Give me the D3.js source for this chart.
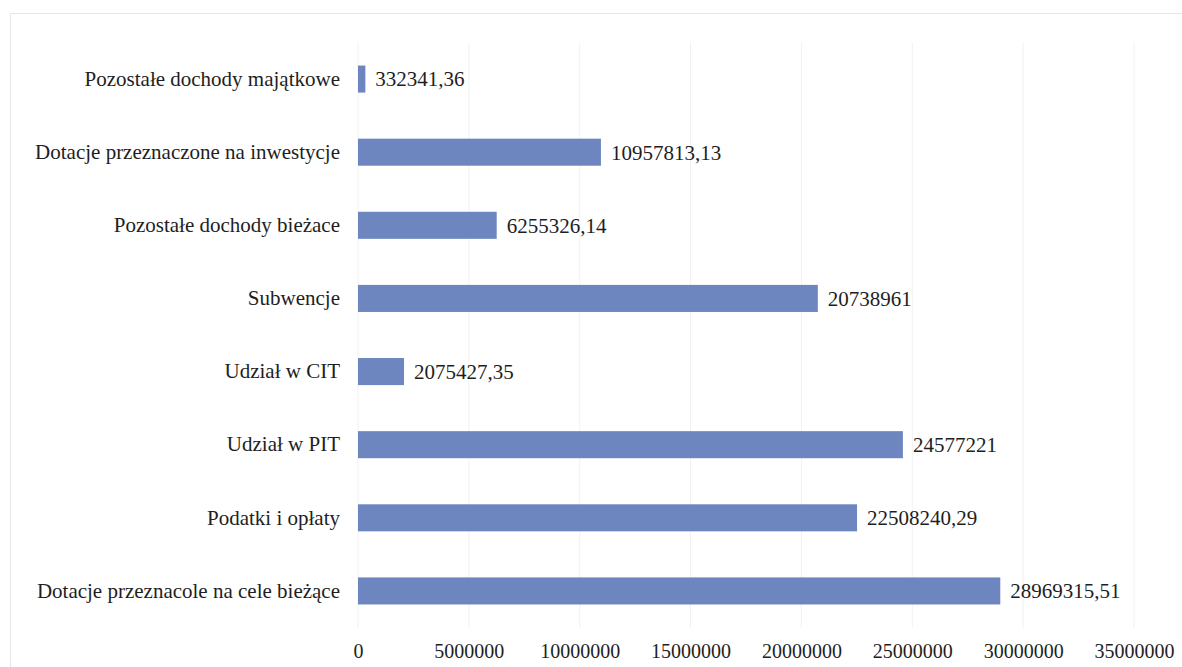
<!DOCTYPE html>
<html><head><meta charset="utf-8">
<script src="https://cdn.jsdelivr.net/npm/d3@7"></script>
<style>body{margin:0;background:#fff}svg{display:block}</style>
</head><body>
<svg id="c" width="1182" height="667"></svg>
<script>
const categories = [
  "Pozostałe dochody majątkowe",
  "Dotacje przeznaczone na inwestycje",
  "Pozostałe dochody bieżace",
  "Subwencje",
  "Udział w CIT",
  "Udział w PIT",
  "Podatki i opłaty",
  "Dotacje przeznacole na cele bieżące"
];
const values = [332341.36, 10957813.13, 6255326.14, 20738961, 2075427.35, 24577221, 22508240.29, 28969315.51];
const valueLabels = ["332341,36","10957813,13","6255326,14","20738961","2075427,35","24577221","22508240,29","28969315,51"];
const tickValues = [0,5000000,10000000,15000000,20000000,25000000,30000000,35000000];

const svg = d3.select("#c");
const font = "'Liberation Serif','Times New Roman',serif";
const m = {left:358, right:1134, top:42.5, bottom:627.5};

svg.append("rect").attr("x",10.5).attr("y",13.5).attr("width",1200).attr("height",700)
  .attr("fill","none").attr("stroke","#e6e6e6");

const x = d3.scaleLinear().domain([0,35000000]).range([m.left,m.right]);
const y = d3.scaleBand().domain(categories).range([m.top,m.bottom]).paddingInner(0.63).paddingOuter(0.315);

// gridlines
svg.append("g").selectAll("line").data(tickValues).join("line")
  .attr("x1",d=>x(d)).attr("x2",d=>x(d)).attr("y1",m.top).attr("y2",m.bottom)
  .attr("stroke","#f1f1f1").attr("stroke-width",1);

// bars
svg.append("g").selectAll("rect").data(values).join("rect")
  .attr("x",x(0)).attr("y",(d,i)=>y(categories[i]))
  .attr("width",d=>x(d)-x(0)).attr("height",y.bandwidth())
  .attr("fill","#6e86c0");

// value labels
svg.append("g").selectAll("text").data(values).join("text")
  .attr("x",d=>x(d)+10).attr("y",(d,i)=>y(categories[i])+y.bandwidth()/2)
  .attr("dy","0.35em").attr("font-family",font).attr("font-size",21).attr("fill","#1e1e1e")
  .text((d,i)=>valueLabels[i]);

// y axis
const yAxis = d3.axisLeft(y).tickSize(0).tickPadding(18);
const gy = svg.append("g").attr("transform",`translate(${m.left},0)`).call(yAxis);
gy.select(".domain").remove();
gy.selectAll("text").attr("font-family",font).attr("font-size",21).attr("fill","#1e1e1e");

// x axis
const xAxis = d3.axisBottom(x).tickValues(tickValues).tickSize(0).tickPadding(16).tickFormat(d=>String(d));
const gx = svg.append("g").attr("transform",`translate(0,${m.bottom})`).call(xAxis);
gx.select(".domain").remove();
gx.selectAll("text").attr("font-family",font).attr("font-size",20).attr("fill","#1e1e1e");
</script>
</body></html>
